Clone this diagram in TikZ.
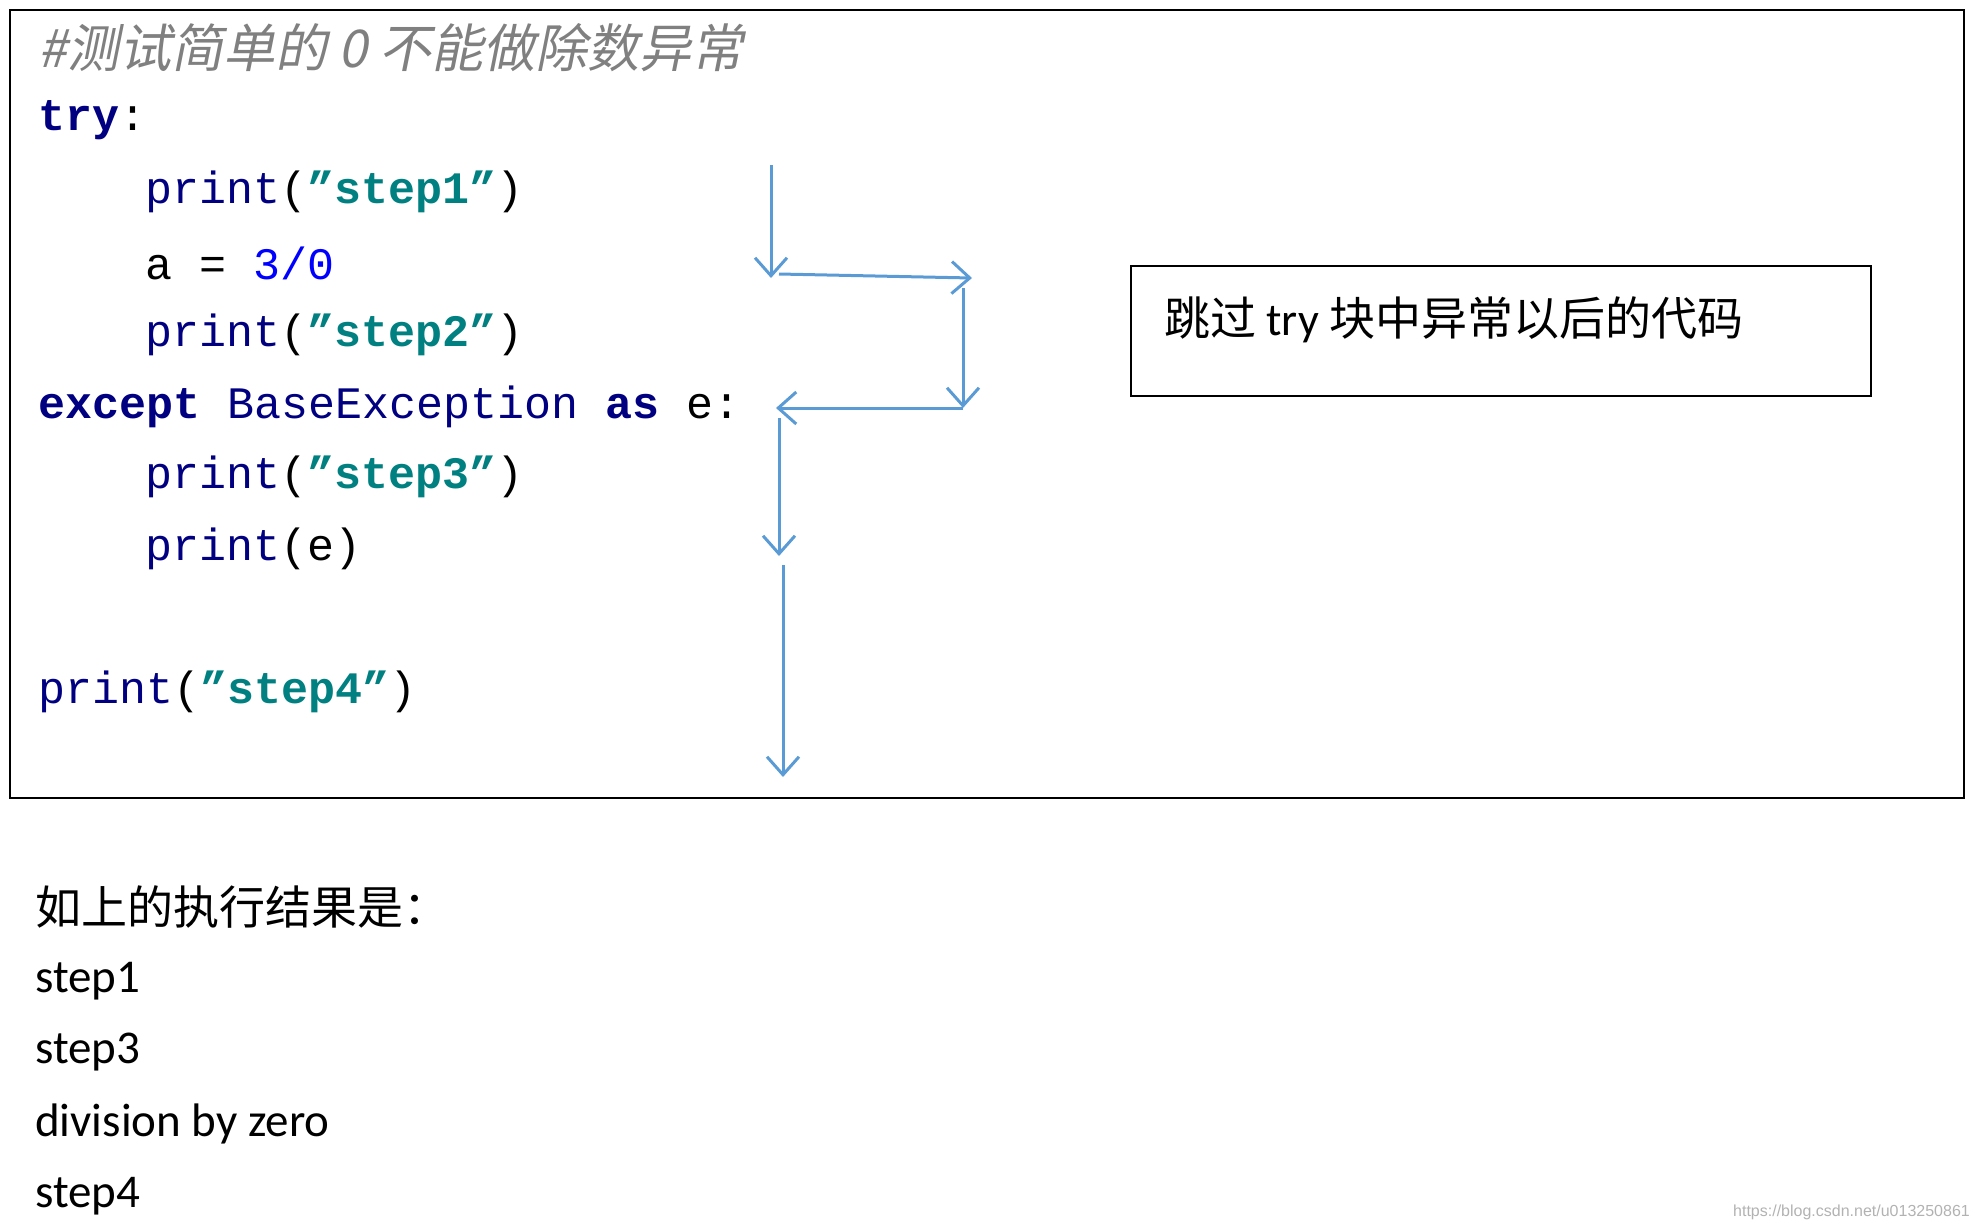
\documentclass[tikz,border=0pt]{standalone}
\usepackage{fontspec}
\setmainfont{Carlito}
\setmonofont{Liberation Mono}
\newfontfamily\cjk{Noto Sans CJK SC}
\newfontfamily\cjkit[FakeSlant=0.2]{Noto Sans CJK SC}
\usetikzlibrary{arrows.meta}
\definecolor{kw}{RGB}{0,0,128}
\definecolor{st}{RGB}{0,128,128}
\definecolor{nm}{RGB}{0,0,255}
\definecolor{ar}{RGB}{91,155,213}
\begin{document}
\begin{tikzpicture}[x=1pt,y=-1pt,
  code/.style={anchor=west,inner sep=0pt,font=\fontsize{45}{45}\selectfont\ttfamily},
  plain/.style={anchor=west,inner sep=0pt,font=\fontsize{47}{47}\selectfont},
  flow/.style={ar,line width=3pt,-{Straight Barb[length=18pt,width=32pt]}}]
\useasboundingbox (0,0) rectangle (1976,1227);
\draw[line width=2.5pt] (10,10) rectangle (1964,798);
\node[draw,line width=2pt,minimum width=740pt,minimum height=130pt,anchor=north west] (box) at (1130,265) {};
\node[plain,font=\fontsize{46}{46}\selectfont\cjk] (lbl) at (1164,320) {跳过 {\fontspec{Carlito}try} 块中异常以后的代码};
\node[code,font=\fontsize{52}{52}\selectfont\cjkit,text=gray] (c0) at (38,48) {\#测试简单的 0 不能做除数异常};
\node[code] (c1) at (38,120) {\textcolor{kw}{\bfseries try}:};
\node[code] (c2) at (145,192) {\textcolor{kw}{print}(\textcolor{st}{\bfseries ”step1”})};
\node[code] (c3) at (145,263) {a = \textcolor{nm}{3/0}};
\node[code] (c4) at (145,335) {\textcolor{kw}{print}(\textcolor{st}{\bfseries ”step2”})};
\node[code] (c5) at (38,407) {\textcolor{kw}{\bfseries except} \textcolor{kw}{BaseException} \textcolor{kw}{\bfseries as} e:};
\node[code] (c6) at (145,477) {\textcolor{kw}{print}(\textcolor{st}{\bfseries ”step3”})};
\node[code] (c7) at (145,549) {\textcolor{kw}{print}(e)};
\node[code] (c8) at (38,692) {\textcolor{kw}{print}(\textcolor{st}{\bfseries ”step4”})};
\coordinate (a0) at (771,165);
\coordinate (a1) at (771,278);
\coordinate (b0) at (779,274);
\coordinate (b1) at (972,278);
\coordinate (d0) at (963,288);
\coordinate (d1) at (963,408);
\coordinate (e1) at (776,408);
\coordinate (f0) at (779,418);
\coordinate (f1) at (779,556);
\coordinate (g0) at (783,565);
\coordinate (g1) at (783,777);
\draw[flow] (a0) -- (a1);
\draw[flow] (b0) -- (b1);
\draw[flow] (d0) -- (d1);
\draw[flow] (d1) -- (e1);
\draw[flow] (f0) -- (f1);
\draw[flow] (g0) -- (g1);
\node[plain,font=\fontsize{46}{46}\selectfont\cjk] (r0) at (35,907) {如上的执行结果是：};
\node[plain] (r1) at (35,981) {step1};
\node[plain] (r2) at (35,1052) {step3};
\node[plain] (r3) at (35,1124) {division by zero};
\node[plain] (r4) at (35,1196) {step4};
\node[anchor=east,inner sep=0pt,text=gray!60,font=\fontsize{16}{16}\selectfont\fontspec{Liberation Sans}] (wm) at (1970,1212) {https://blog.csdn.net/u013250861};
\end{tikzpicture}
\end{document}
